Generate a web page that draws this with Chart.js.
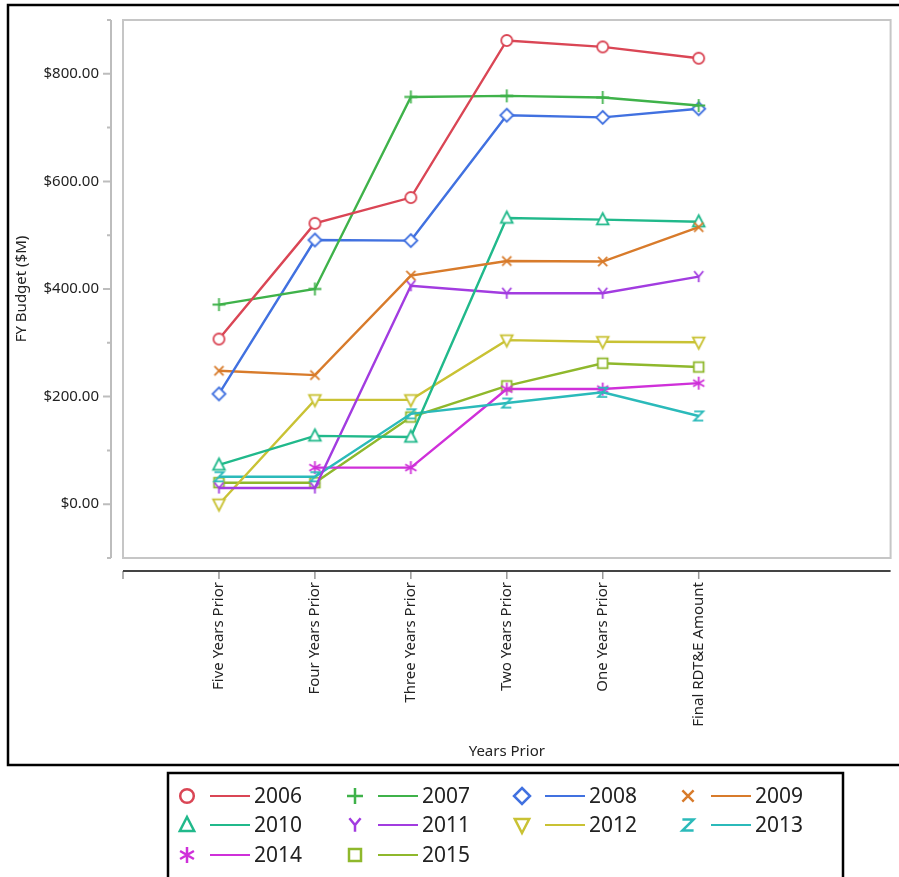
<!DOCTYPE html>
<html lang="en">
<head>
    <meta charset="UTF-8">
    <title>FY Budget by Years Prior</title>
    <script src="https://cdn.jsdelivr.net/npm/chart.js"></script>
    <style>
        body {
            margin: 0;
            background: white;
        }
        #wrap {
            width: 899px;
            height: 877px;
        }
    </style>
</head>
<body>
    <div id="wrap">
        <canvas id="budgetChart" width="899" height="877"></canvas>
    </div>

    <script>
        // categories on the x axis
        const categories = ['Five Years Prior', 'Four Years Prior', 'Three Years Prior',
            'Two Years Prior', 'One Years Prior', 'Final RDT&E Amount'];
        const years = ['2006', '2007', '2008', '2009', '2010', '2011', '2012', '2013', '2014', '2015'];

        // FY budget ($M), one array per year
        const fy2006 = [307, 522, 570, 862, 850, 829];
        const fy2007 = [371, 400, 757, 759, 756, 741];
        const fy2008 = [205, 491, 490, 723, 719, 735];
        const fy2009 = [248, 240, 425, 452, 451, 515];
        const fy2010 = [73, 127, 125, 532, 529, 525];
        const fy2011 = [30, 30, 406, 392, 392, 423];
        const fy2012 = [0, 194, 194, 305, 302, 301];
        const fy2013 = [51, 51, 168, 188, 208, 164];
        const fy2014 = [null, 68, 68, 214, 214, 225];
        const fy2015 = [40, 40, 162, 220, 262, 255];
        const seriesValues = [fy2006, fy2007, fy2008, fy2009, fy2010, fy2011, fy2012, fy2013, fy2014, fy2015];

        // labelled y ticks
        const yLabelTicks = [0, 200, 400, 600, 800];

        const colors = ['#da4655', '#3fb24a', '#4171e0', '#d87b2b', '#21b98b',
            '#a23ce0', '#c9c234', '#2bbaba', '#cf30d9', '#8fb82c'];
        const markers = ['circle', 'plus', 'diamond', 'cross', 'triangle',
            'y', 'invtriangle', 'z', 'asterisk', 'square'];

        // draw one marker glyph centred at (cx, cy)
        function drawGlyph(ctx, kind, cx, cy, r, color, lw) {
            ctx.save();
            ctx.strokeStyle = color;
            ctx.fillStyle = 'white';
            ctx.lineWidth = lw;
            ctx.lineJoin = 'miter';
            ctx.beginPath();
            switch (kind) {
                case 'circle':
                    ctx.arc(cx, cy, r * 0.85, 0, Math.PI * 2);
                    ctx.fill();
                    break;
                case 'plus':
                    ctx.moveTo(cx - r, cy); ctx.lineTo(cx + r, cy);
                    ctx.moveTo(cx, cy - r); ctx.lineTo(cx, cy + r);
                    break;
                case 'diamond':
                    ctx.moveTo(cx, cy - r); ctx.lineTo(cx + r, cy);
                    ctx.lineTo(cx, cy + r); ctx.lineTo(cx - r, cy); ctx.closePath();
                    ctx.fill();
                    break;
                case 'cross':
                    ctx.moveTo(cx - r * 0.7, cy - r * 0.7); ctx.lineTo(cx + r * 0.7, cy + r * 0.7);
                    ctx.moveTo(cx + r * 0.7, cy - r * 0.7); ctx.lineTo(cx - r * 0.7, cy + r * 0.7);
                    break;
                case 'triangle':
                    ctx.moveTo(cx, cy - r); ctx.lineTo(cx + r * 0.9, cy + r * 0.75);
                    ctx.lineTo(cx - r * 0.9, cy + r * 0.75); ctx.closePath();
                    ctx.fill();
                    break;
                case 'invtriangle':
                    ctx.moveTo(cx, cy + r); ctx.lineTo(cx + r * 0.9, cy - r * 0.75);
                    ctx.lineTo(cx - r * 0.9, cy - r * 0.75); ctx.closePath();
                    ctx.fill();
                    break;
                case 'y':
                    ctx.moveTo(cx - r * 0.7, cy - r * 0.85); ctx.lineTo(cx, cy);
                    ctx.lineTo(cx + r * 0.7, cy - r * 0.85);
                    ctx.moveTo(cx, cy); ctx.lineTo(cx, cy + r * 0.85);
                    break;
                case 'z':
                    ctx.moveTo(cx - r * 0.7, cy - r * 0.7); ctx.lineTo(cx + r * 0.7, cy - r * 0.7);
                    ctx.lineTo(cx - r * 0.7, cy + r * 0.7); ctx.lineTo(cx + r * 0.7, cy + r * 0.7);
                    break;
                case 'asterisk':
                    for (let k = 0; k < 3; k++) {
                        const ang = Math.PI / 2 + k * Math.PI / 3;
                        ctx.moveTo(cx + Math.cos(ang) * r, cy + Math.sin(ang) * r);
                        ctx.lineTo(cx - Math.cos(ang) * r, cy - Math.sin(ang) * r);
                    }
                    break;
                case 'square':
                    ctx.rect(cx - r * 0.75, cy - r * 0.75, r * 1.5, r * 1.5);
                    ctx.fill();
                    break;
            }
            ctx.stroke();
            ctx.restore();
        }

        function glyphImage(kind, color, r, lw) {
            const c = document.createElement('canvas');
            const s = Math.ceil(r * 2 + lw * 2 + 2);
            c.width = s;
            c.height = s;
            drawGlyph(c.getContext('2d'), kind, s / 2, s / 2, r, color, lw);
            return c;
        }

        const datasets = years.map((yr, i) => ({
            label: yr,
            data: seriesValues[i].map((v, j) => ({ x: j, y: v })),
            borderColor: colors[i],
            backgroundColor: colors[i],
            borderWidth: 2.4,
            tension: 0,
            pointStyle: glyphImage(markers[i], colors[i], 6.5, 1.8),
            pointRadius: 6,
            pointHoverRadius: 6
        }));

        const decor = {
            id: 'decor',
            beforeDatasetsDraw(chart) {
                const { ctx, chartArea: a } = chart;
                ctx.save();
                ctx.strokeStyle = '#c6c6c6';
                ctx.lineWidth = 2;
                ctx.strokeRect(a.left, a.top, a.right - a.left, a.bottom - a.top);
                ctx.restore();
            },
            afterDraw(chart) {
                const { ctx, chartArea: a, scales } = chart;
                ctx.save();

                // outer black box
                ctx.strokeStyle = '#000';
                ctx.lineWidth = 2.5;
                ctx.strokeRect(8, 5, 900, 760);

                // y axis line and tick marks
                const yx = a.left - 12;
                ctx.strokeStyle = '#bdbdbd';
                ctx.lineWidth = 2;
                ctx.beginPath();
                ctx.moveTo(yx, a.top);
                ctx.lineTo(yx, a.bottom);
                scales.y.ticks.forEach(t => {
                    const py = scales.y.getPixelForValue(t.value);
                    const len = yLabelTicks.includes(t.value) ? 8 : 4;
                    ctx.moveTo(yx, py);
                    ctx.lineTo(yx - len, py);
                });
                ctx.stroke();

                // x axis line and tick marks
                const xy = a.bottom + 13;
                ctx.strokeStyle = '#999';
                ctx.lineWidth = 1.5;
                ctx.beginPath();
                scales.x.ticks.forEach(t => {
                    if (t.value > categories.length - 1) return;
                    const px = scales.x.getPixelForValue(t.value);
                    ctx.moveTo(px, xy);
                    ctx.lineTo(px, xy + 8);
                });
                ctx.stroke();
                ctx.strokeStyle = '#444';
                ctx.lineWidth = 2;
                ctx.beginPath();
                ctx.moveTo(a.left, xy);
                ctx.lineTo(a.right, xy);
                ctx.stroke();

                // legend
                ctx.strokeStyle = '#000';
                ctx.lineWidth = 2.5;
                ctx.strokeRect(168, 773, 675, 110);
                ctx.font = '21px "Noto Sans", sans-serif';
                ctx.textBaseline = 'middle';
                ctx.fillStyle = '#222';
                const colX = [187, 355, 522, 688];
                const rowY = [796, 825, 855];
                years.forEach((yr, i) => {
                    const cx = colX[i % 4];
                    const cy = rowY[Math.floor(i / 4)];
                    drawGlyph(ctx, markers[i], cx, cy, 8, colors[i], 2.5);
                    ctx.strokeStyle = colors[i];
                    ctx.lineWidth = 2;
                    ctx.beginPath();
                    ctx.moveTo(cx + 23, cy);
                    ctx.lineTo(cx + 63, cy);
                    ctx.stroke();
                    ctx.fillText(yr, cx + 67, cy + 1);
                });
                ctx.restore();
            }
        };

        const ctx = document.getElementById('budgetChart').getContext('2d');
        const budgetChart = new Chart(ctx, {
            type: 'line',
            data: { datasets: datasets },
            options: {
                responsive: false,
                animation: false,
                events: [],
                layout: {
                    padding: { left: 0, top: 20, right: 8, bottom: 114 }
                },
                plugins: {
                    legend: { display: false },
                    tooltip: { enabled: false }
                },
                scales: {
                    x: {
                        type: 'linear',
                        min: -1,
                        max: 7,
                        grid: { display: false, drawTicks: false },
                        border: { display: false },
                        ticks: {
                            stepSize: 1,
                            autoSkip: false,
                            minRotation: 90,
                            maxRotation: 90,
                            padding: 24,
                            color: '#222',
                            font: { family: 'Noto Sans', size: 15 },
                            callback: v => categories[v] || ''
                        },
                        title: {
                            display: true,
                            text: 'Years Prior',
                            color: '#222',
                            font: { family: 'Noto Sans', size: 15 },
                            padding: { top: 0, bottom: 2 }
                        },
                        afterFit: s => {
                            s.height = 205;
                            s.paddingLeft = 0;
                            s.paddingRight = 0;
                        }
                    },
                    y: {
                        min: -100,
                        max: 900,
                        grid: { display: false, drawTicks: false },
                        border: { display: false },
                        ticks: {
                            stepSize: 100,
                            padding: 24,
                            color: '#222',
                            font: { family: 'Noto Sans', size: 15 },
                            callback: v => yLabelTicks.includes(v) ? '$' + v.toFixed(2) : ''
                        },
                        title: {
                            display: true,
                            text: 'FY Budget ($M)',
                            color: '#222',
                            font: { family: 'Noto Sans', size: 15 },
                            padding: { top: 13, bottom: 0 }
                        },
                        afterFit: s => {
                            s.width = 123;
                            s.paddingTop = 0;
                            s.paddingBottom = 0;
                        }
                    }
                }
            },
            plugins: [decor]
        });
    </script>
</body>
</html>
